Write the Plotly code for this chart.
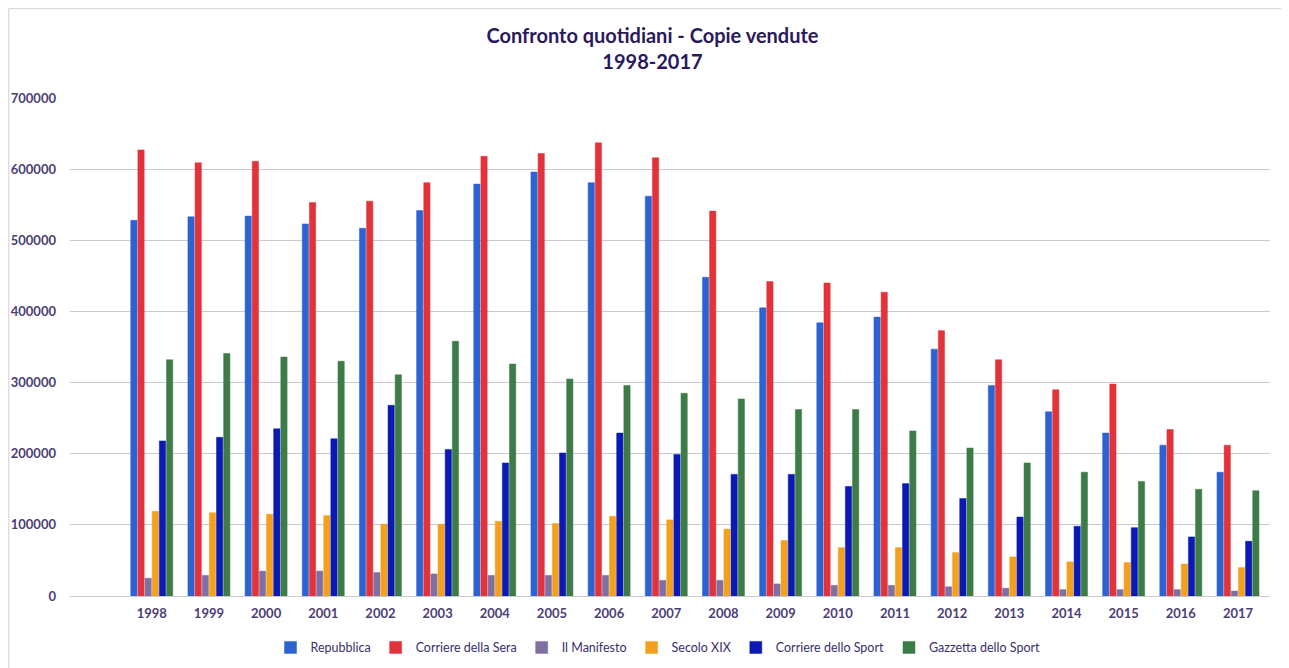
import plotly.graph_objects as go

# Anni
years = [str(y) for y in range(1998, 2018)]

# Copie vendute
repubblica = [528000, 533000, 534000, 523000, 517000, 542000, 579000, 596000, 581000, 562000,
              448000, 405000, 384000, 392000, 347000, 296000, 259000, 229000, 212000, 174000]
corriere_sera = [627000, 609000, 611000, 553000, 555000, 581000, 618000, 622000, 637000, 616000,
                 541000, 442000, 440000, 427000, 373000, 332000, 290000, 298000, 234000, 212000]
manifesto = [25000, 29000, 35000, 35000, 33000, 31000, 29000, 29000, 29000, 22000,
             22000, 17000, 15000, 15000, 13000, 11000, 9000, 9000, 9000, 7000]
secolo_xix = [119000, 117000, 115000, 113000, 101000, 101000, 105000, 102000, 112000, 107000,
              94000, 78000, 68000, 68000, 61000, 55000, 48000, 47000, 45000, 40000]
corriere_sport = [218000, 223000, 235000, 221000, 268000, 206000, 187000, 201000, 229000, 199000,
                  171000, 171000, 154000, 158000, 137000, 111000, 98000, 96000, 83000, 77000]
gazzetta_sport = [332000, 341000, 336000, 330000, 311000, 358000, 326000, 305000, 296000, 285000,
                  277000, 262000, 262000, 232000, 208000, 187000, 174000, 161000, 150000, 148000]

series = [
    ("Repubblica", repubblica, "#2c63d3"),
    ("Corriere della Sera", corriere_sera, "#e2323a"),
    ("Il Manifesto", manifesto, "#7f6fa3"),
    ("Secolo XIX", secolo_xix, "#f2a01e"),
    ("Corriere dello Sport", corriere_sport, "#0b19b5"),
    ("Gazzetta dello Sport", gazzetta_sport, "#3d7b47"),
]

text_col = "#3b2e6e"
font_fam = "Lato, Open Sans, sans-serif"

fig = go.Figure()
for name, vals, col in series:
    fig.add_trace(go.Bar(
        x=years, y=vals, name=name,
        marker=dict(color=col, line=dict(color=col, width=0.5)),
    ))

# the page body adds an 8px offset, margins compensate for it
fig.update_layout(
    width=1289, height=668,
    barmode="group", bargap=0.25, bargroupgap=0.12,
    paper_bgcolor="white", plot_bgcolor="white",
    margin=dict(l=62, r=27, t=90, b=80),
    font=dict(family=font_fam, color=text_col),
    title=dict(
        text="<b>Confronto quotidiani - Copie vendute<br>1998-2017</b>",
        x=0.5, xanchor="center", y=0.947, yanchor="top",
        font=dict(size=20, color="#2a1a5c"),
    ),
    xaxis=dict(
        type="category", range=[-1.43, 19.56], automargin=False,
        showgrid=False, ticks="", showline=False, ticklabelstandoff=8,
        tickfont=dict(size=13, color="#4a4074", weight="bold"),
    ),
    yaxis=dict(
        range=[0, 700000], dtick=100000, tickformat="d", automargin=False,
        showgrid=True, gridcolor="#c9c9d2", gridwidth=1,
        zeroline=True, zerolinecolor="#c9c9d2", zerolinewidth=1,
        ticks="", ticklabelstandoff=13,
        tickfont=dict(size=13, color="#4a4074", weight="bold"),
    ),
    legend=dict(
        orientation="h", x=0.49, xanchor="center", y=-0.104, yanchor="middle",
        font=dict(size=12.5, color=text_col),
        itemwidth=30, traceorder="normal",
    ),
    shapes=[
        dict(type="rect", xref="paper", yref="paper", x0=-0.051, x1=1.014, y0=-0.3, y1=1.18,
             line=dict(color="#cfcfd8", width=1), fillcolor="rgba(0,0,0,0)", layer="below"),
    ],
)

fig.write_html("out.html")
